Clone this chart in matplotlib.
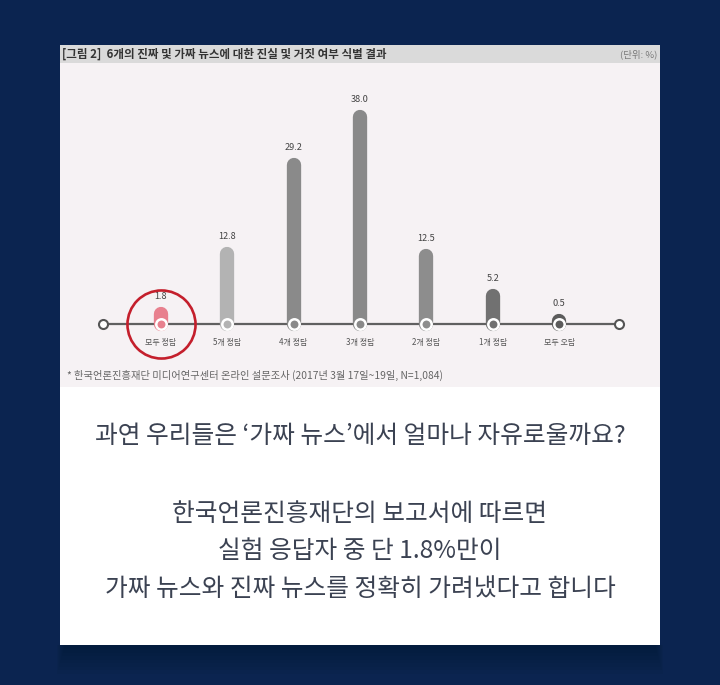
import matplotlib
matplotlib.use("Agg")
import matplotlib.pyplot as plt
from matplotlib.patches import Rectangle

plt.rcParams['font.family'] = ['Noto Sans CJK KR', 'DejaVu Sans']

# ---- data ----
categories = ['모두 정답', '5개 정답', '4개 정답', '3개 정답', '2개 정답', '1개 정답', '모두 오답']
values = [1.8, 12.8, 29.2, 38.0, 12.5, 5.2, 0.5]
bar_colors = ['#e8808e', '#b3b3b3', '#8a8a8a', '#898989', '#8d8d8d', '#717171', '#5c5c5c']
title_text = '[그림 2]  6개의 진짜 및 가짜 뉴스에 대한 진실 및 거짓 여부 식별 결과'
unit_text = '(단위: %)'
source_text = '* 한국언론진흥재단 미디어연구센터 온라인 설문조사 (2017년 3월 17일~19일, N=1,084)'
caption_lines = ['과연 우리들은 ‘가짜 뉴스’에서 얼마나 자유로울까요?',
                 '한국언론진흥재단의 보고서에 따르면',
                 '실험 응답자 중 단 1.8%만이',
                 '가짜 뉴스와 진짜 뉴스를 정확히 가려냈다고 합니다']

W, H = 720, 685
fig = plt.figure(figsize=(W / 100, H / 100), dpi=100)
fig.patch.set_facecolor('#0b2450')

# background / card axes in pixel coordinates
bg = fig.add_axes([0, 0, 1, 1])
bg.set_xlim(0, W)
bg.set_ylim(H, 0)
bg.axis('off')
# soft shadow under card
for k in range(8):
    bg.add_patch(Rectangle((64 - k, 645), 592 + 2 * k, 4 + 3.5 * k, color='#000814', alpha=0.035, lw=0))
bg.add_patch(Rectangle((60, 45), 600, 600, color='white', lw=0))
bg.add_patch(Rectangle((60, 63), 600, 324, color='#f6f2f4', lw=0))
bg.add_patch(Rectangle((60, 45), 600, 18, color='#dadada', lw=0))
bg.text(62, 54.5, title_text, fontsize=8.3, fontweight='bold', color='#333333', ha='left', va='center')
bg.text(657, 54.5, unit_text, fontsize=6.8, color='#7a7a7a', ha='right', va='center')
bg.text(67, 375, source_text, fontsize=7.4, color='#666666', ha='left', va='center')

cap_y = [436, 514, 551, 589]
for txt, y in zip(caption_lines, cap_y):
    bg.text(360, y, txt, fontsize=17.8, color='#3b4252', ha='center', va='center')

# chart axes
x0 = 160.7
step = 66.43
scale = 5.45  # px per unit
base = 324
left_px, right_px, top_px, bot_px = 60, 660, 63, 387
ax = fig.add_axes([left_px / W, 1 - bot_px / H, (right_px - left_px) / W, (bot_px - top_px) / H])
ax.set_xlim((left_px - x0) / step, (right_px - x0) / step)
ax.set_ylim(-(bot_px - base) / scale, (base - top_px) / scale)
ax.axis('off')
ax.patch.set_alpha(0)

xs = list(range(len(categories)))
# baseline with end circles
ax.plot([-0.873, 6.9], [0, 0], color='#606060', lw=1.6, zorder=1)
ax.plot([-0.873, 6.9], [0, 0], ls='none', marker='o', ms=6.5, mfc='white', mec='#555555', mew=1.5, zorder=4)

bars = ax.vlines(xs, 0, values, colors=bar_colors, linewidth=10.3, zorder=2)
bars.set_capstyle('round')

for x, v, c in zip(xs, values, bar_colors):
    ax.plot(x, 0, marker='o', ms=7.5, mfc=c, mec='white', mew=1.8, zorder=5)
    ax.annotate(f'{v:.1f}', (x, v), xytext=(0, 12.5), textcoords='offset points',
                ha='center', va='center', fontsize=6.6, color='#444444')
    ax.annotate(categories[x], (x, 0), xytext=(0, -13), textcoords='offset points',
                ha='center', va='center', fontsize=5.8, color='#555555')

# highlight ring around the first point
ax.plot(0, 0, marker='o', ms=49, mfc='none', mec='#c41f2c', mew=1.9, zorder=6)

fig.savefig('out.png', dpi=100, facecolor=fig.get_facecolor())
